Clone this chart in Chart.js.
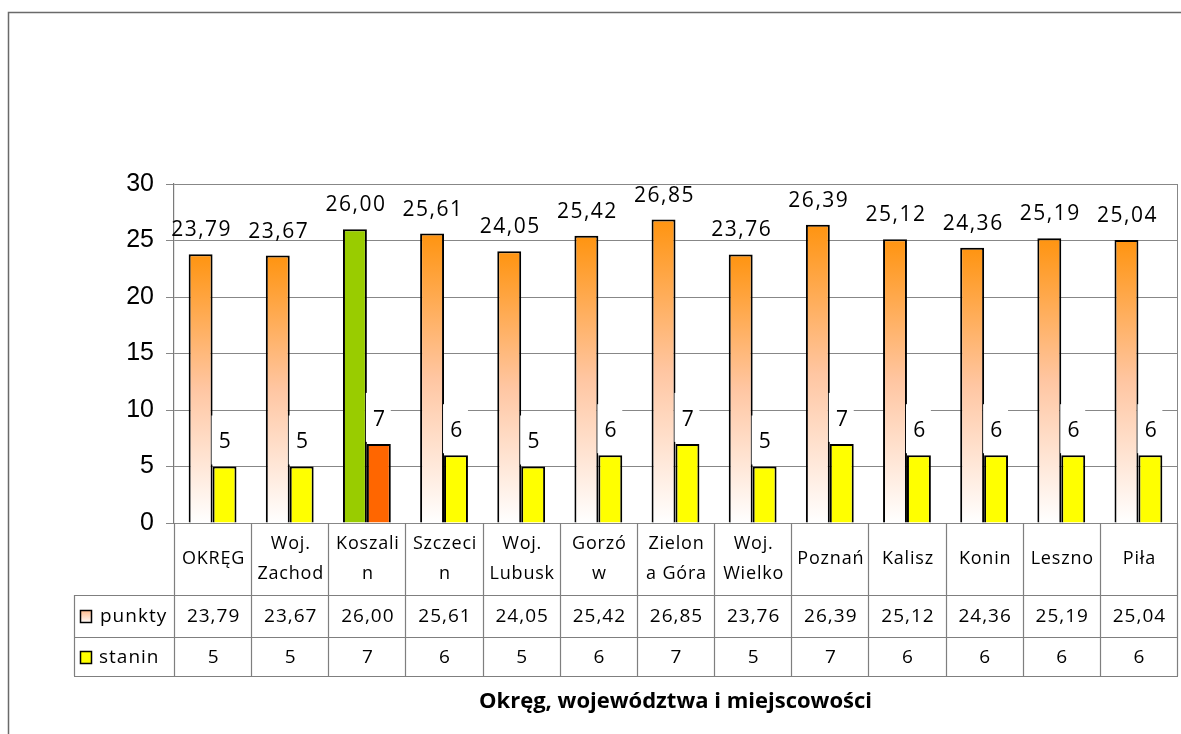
<!DOCTYPE html>
<html>
<head>
<meta charset="utf-8">
<script src="https://cdn.jsdelivr.net/npm/chart.js@4/dist/chart.umd.min.js"></script>
<style>
  html, body { margin: 0; padding: 0; background: #ffffff; }
  #wrap { width: 1181px; height: 734px; position: relative; }
</style>
</head>
<body>
<div id="wrap"><canvas id="c" width="1181" height="734"></canvas></div>
<script>
// ---- data ----
const categories = [["OKRĘG"], ["Woj.", "Zachod"], ["Koszali", "n"], ["Szczeci", "n"], ["Woj.", "Lubusk"], ["Gorzó", "w"], ["Zielon", "a Góra"], ["Woj.", "Wielko"], ["Poznań"], ["Kalisz"], ["Konin"], ["Leszno"], ["Piła"]];
const punkty = [23.79, 23.67, 26.00, 25.61, 24.05, 25.42, 26.85, 23.76, 26.39, 25.12, 24.36, 25.19, 25.04];
const stanin = [5, 5, 7, 6, 5, 6, 7, 5, 7, 6, 6, 6, 6];
const seriesNames = ["punkty", "stanin"];
const axisTitle = "Okręg, województwa i miejscowości";
const yMin = 0, yMax = 30, yStep = 5;
const highlightIndex = 2;

const FONT = "'Open Sans', 'Noto Sans', sans-serif";
const fmt = v => (Number.isInteger(v) && v < 10) ? String(v) : v.toFixed(2).replace('.', ',');

function orangeGradient(ctx, yTop, yBottom) {
  const g = ctx.createLinearGradient(0, yTop, 0, yBottom);
  g.addColorStop(0, '#FF9410');
  g.addColorStop(0.5, '#FFC6A2');
  g.addColorStop(1, '#FFFFFF');
  return g;
}

const extras = {
  id: 'extras',
  afterDatasetsDraw(chart) {
    const ctx = chart.ctx;
    const area = chart.chartArea;
    ctx.save();
    ctx.strokeStyle = '#878787';
    ctx.lineWidth = 1;
    ctx.beginPath();
    ctx.moveTo(area.right + 0.5, area.top);
    ctx.lineTo(area.right + 0.5, area.bottom);
    ctx.stroke();

    ctx.font = "21px " + FONT;
    ctx.letterSpacing = '1.5px';
    ctx.textAlign = 'center';
    ctx.textBaseline = 'middle';
    ctx.fillStyle = '#000';
    chart.getDatasetMeta(0).data.forEach((el, i) => {
      ctx.fillText(fmt(punkty[i]), el.x + 1, el.y - 24);
    });
    chart.getDatasetMeta(1).data.forEach((el, i) => {
      const w = el.width;
      ctx.fillStyle = '#ffffff';
      ctx.fillRect(el.x - w / 2 - 1, el.y - 51, w + 1, 49);
      ctx.fillStyle = '#000';
      ctx.fillText(fmt(stanin[i]), el.x + 1, el.y - 24);
    });
    ctx.restore();
  },
  afterDraw(chart) {
    const ctx = chart.ctx;
    const area = chart.chartArea;
    const xs = chart.scales.x;
    const n = categories.length;
    const cw = (area.right - area.left) / n;
    const legendLeft = 74;
    const rowTop = area.bottom, row1 = 595, row2 = 637, row3 = 676;
    ctx.save();
    ctx.strokeStyle = '#6a6a6a';
    ctx.lineWidth = 1.5;
    ctx.beginPath();
    ctx.moveTo(8.5, 740);
    ctx.lineTo(8.5, 12.5);
    ctx.lineTo(1190, 12.5);
    ctx.stroke();

    ctx.strokeStyle = '#7f7f7f';
    ctx.lineWidth = 1.2;
    ctx.beginPath();
    for (let i = 0; i <= n; i++) {
      const x = Math.round(area.left + i * cw) + 0.5;
      ctx.moveTo(x, rowTop);
      ctx.lineTo(x, row3);
    }
    ctx.moveTo(legendLeft + 0.5, row1);
    ctx.lineTo(legendLeft + 0.5, row3);
    [row1, row2, row3].forEach(y => {
      ctx.moveTo(legendLeft, y + 0.5);
      ctx.lineTo(area.right + 1, y + 0.5);
    });
    ctx.stroke();

    ctx.fillStyle = '#000';
    ctx.font = "18px " + FONT;
    ctx.letterSpacing = '0.8px';
    ctx.textAlign = 'center';
    ctx.textBaseline = 'middle';
    categories.forEach((lines, i) => {
      const cx = xs.getPixelForValue(i) + 1;
      if (lines.length === 1) {
        ctx.fillText(lines[0], cx, 559);
      } else {
        ctx.fillText(lines[0], cx, 544);
        ctx.fillText(lines[1], cx, 574);
      }
    });
    ctx.font = "19px " + FONT;
    ctx.letterSpacing = '1px';
    punkty.forEach((v, i) => ctx.fillText(fmt(v), xs.getPixelForValue(i) + 1, 617));
    stanin.forEach((v, i) => ctx.fillText(fmt(v), xs.getPixelForValue(i) + 1, 658));

    ctx.lineWidth = 1.5;
    ctx.strokeStyle = '#000';
    const g = ctx.createLinearGradient(0, 610, 0, 623);
    g.addColorStop(0, '#FFB98A');
    g.addColorStop(1, '#FFFFFF');
    ctx.fillStyle = g;
    ctx.fillRect(80.5, 610.5, 11, 12);
    ctx.strokeRect(80.5, 610.5, 11, 12);
    ctx.fillStyle = '#FFFF00';
    ctx.fillRect(80.5, 651.5, 11, 12);
    ctx.strokeRect(80.5, 651.5, 11, 12);

    ctx.fillStyle = '#000';
    ctx.textAlign = 'left';
    ctx.font = "19px " + FONT;
    ctx.fillText(seriesNames[0], 100, 617);
    ctx.fillText(seriesNames[1], 99, 658);

    ctx.letterSpacing = '0px';
    ctx.textAlign = 'center';
    ctx.font = "bold 22px " + FONT;
    ctx.fillStyle = '#000';
    ctx.fillText(axisTitle, (area.left + area.right) / 2, 702);
    ctx.restore();
  }
};

const chart = new Chart(document.getElementById('c'), {
  type: 'bar',
  data: {
    labels: categories.map(c => c.join(' ')),
    datasets: [
      {
        label: seriesNames[0],
        data: punkty,
        borderColor: '#000',
        borderWidth: 2,
        backgroundColor: (c) => {
          if (c.type !== 'data') return '#FF9410';
          if (c.dataIndex === highlightIndex) return '#99CC00';
          const ch = c.chart;
          if (!ch.chartArea) return '#FF9410';
          const ys = ch.scales.y;
          return orangeGradient(ch.ctx, ys.getPixelForValue(c.raw), ys.getPixelForValue(0));
        },
        categoryPercentage: 0.62,
        barPercentage: 1.0
      },
      {
        label: seriesNames[1],
        data: stanin,
        borderColor: '#000',
        borderWidth: 2,
        backgroundColor: stanin.map((v, i) => i === highlightIndex ? '#FF6600' : '#FFFF00'),
        categoryPercentage: 0.62,
        barPercentage: 1.0
      }
    ]
  },
  options: {
    responsive: false,
    animation: false,
    devicePixelRatio: 1,
    layout: { padding: { left: 0, right: 4, top: 184, bottom: 211 } },
    plugins: {
      legend: { display: false },
      tooltip: { enabled: false },
      title: { display: false }
    },
    scales: {
      x: { display: false, offset: true },
      y: {
        min: yMin,
        max: yMax,
        afterFit: (s) => { s.width = 174; },
        ticks: {
          stepSize: yStep,
          color: '#000',
          padding: 12,
          font: { family: "'Liberation Sans', Arial, sans-serif", size: 25 }
        },
        grid: { color: '#878787', lineWidth: 1, tickLength: 8, drawTicks: true },
        border: { color: '#7a7a7a', width: 1.2 }
      }
    }
  },
  plugins: [extras]
});
</script>
</body>
</html>
